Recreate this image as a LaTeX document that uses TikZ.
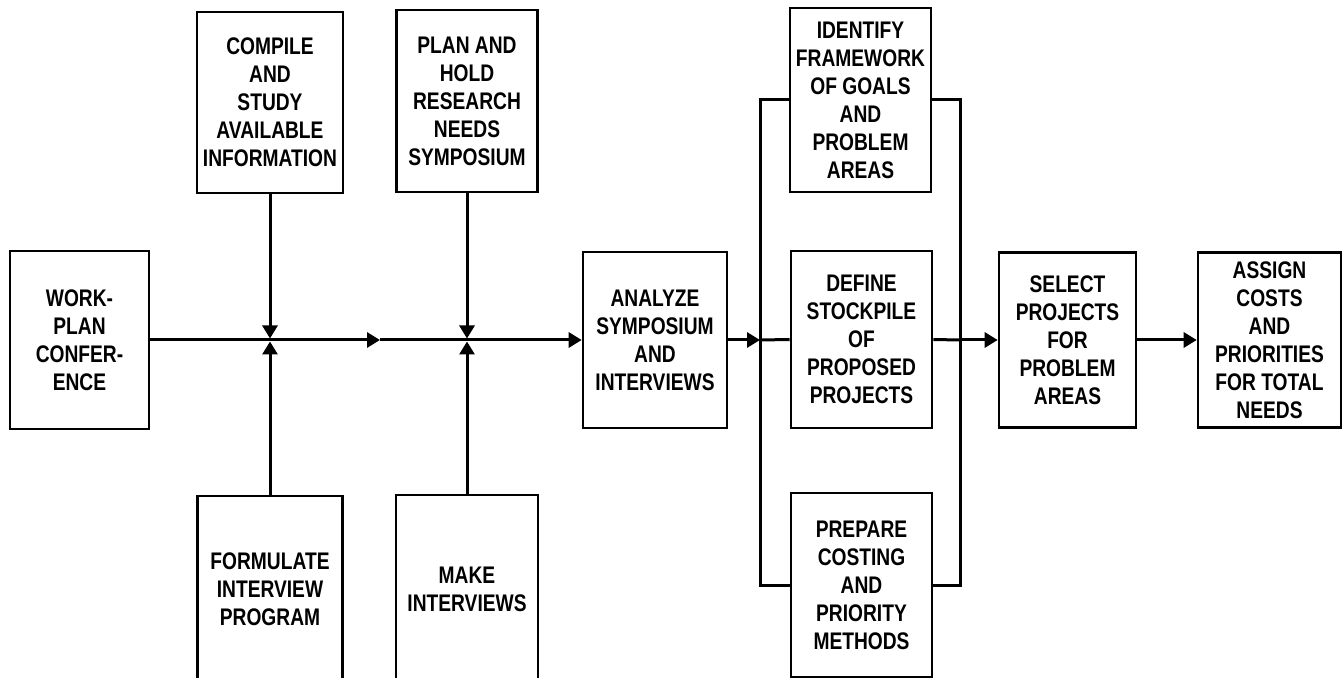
\documentclass[tikz,border=0pt]{standalone}
\usepackage{fontspec}
\newfontfamily\boxfont{Liberation Sans}[FakeStretch=0.8]
\usetikzlibrary{arrows.meta}

\begin{document}
\begin{tikzpicture}[x=0.5pt, y=-0.5pt,
    box/.style={draw, line width=1.3pt, fill=white, align=center, inner sep=0pt,
        font=\boxfont\bfseries\fontsize{12}{14}\selectfont,
        minimum width=70.5pt, minimum height=90pt},
    flow/.style={line width=1.5pt},
    flowto/.style={flow, -{Triangle[length=6.5pt, width=7.5pt]}}]
    \useasboundingbox (0,0) rectangle (1343,678);
    \clip (0,0) rectangle (1343,678);
    % boxes
    \node[box, minimum width=69.5pt, minimum height=89pt] (work) at (79.5,340) {WORK-\\PLAN\\CONFER-\\ENCE};
    \node[box, minimum width=73pt, minimum height=90.5pt] (compile) at (270,102.5) {COMPILE\\AND\\STUDY\\AVAILABLE\\INFORMATION};
    \node[box, minimum width=72.5pt, minimum height=93pt] (formulate) at (270,589) {FORMULATE\\INTERVIEW\\PROGRAM};
    \node[box, minimum width=70.5pt, minimum height=91pt] (plan) at (467,101) {PLAN AND\\HOLD\\RESEARCH\\NEEDS\\SYMPOSIUM};
    \node[box, minimum width=71pt, minimum height=94pt] (make) at (467,589) {MAKE\\INTERVIEWS};
    \node[box, minimum width=72pt, minimum height=88pt] (analyze) at (655,340) {ANALYZE\\SYMPOSIUM\\AND\\INTERVIEWS};
    \node[box, minimum height=92pt] (identify) at (860.5,100) {IDENTIFY\\FRAMEWORK\\OF GOALS\\AND\\PROBLEM\\AREAS};
    \node[box, minimum height=88.5pt] (define) at (861.5,339.5) {DEFINE\\STOCKPILE\\OF\\PROPOSED\\PROJECTS};
    \node[box, minimum height=92pt] (prepare) at (861.5,585) {PREPARE\\COSTING\\AND\\PRIORITY\\METHODS};
    \node[box, minimum width=68.5pt, minimum height=87.5pt] (select) at (1067.5,340) {SELECT\\PROJECTS\\FOR\\PROBLEM\\AREAS};
    \node[box, minimum width=71.5pt, minimum height=87.5pt] (assign) at (1269.5,340) {ASSIGN\\COSTS\\AND\\PRIORITIES\\FOR TOTAL\\NEEDS};
    % junctions on the main line
    \coordinate (mid) at (380,340);
    \coordinate (j1) at (270,340);
    \coordinate (j2) at (467,340);
    \coordinate (busL) at (760,340);
    \coordinate (busR) at (960,340);
    % connectors
    \draw[flowto] (work.east) -- (mid);
    \draw[flowto] (mid) -- (analyze.west);
    \draw[flowto, shorten >=0.75pt] (compile.south) -- (j1);
    \draw[flowto, shorten >=0.75pt] (formulate.north) -- (j1);
    \draw[flowto, shorten >=0.75pt] (plan.south) -- (j2);
    \draw[flowto, shorten >=0.75pt] (make.north) -- (j2);
    \draw[flowto] (analyze.east) -- (busL);
    \draw[flow] (identify.west) -| (busL) |- (prepare.west);
    \draw[flow] (busL) -- (define.west);
    \draw[flow] (identify.east) -| (busR) |- (prepare.east);
    \draw[flow] (define.east) -- (busR);
    \draw[flowto] (busR) -- (select.west);
    \draw[flowto] (select.east) -- (assign.west);
\end{tikzpicture}
\end{document}
